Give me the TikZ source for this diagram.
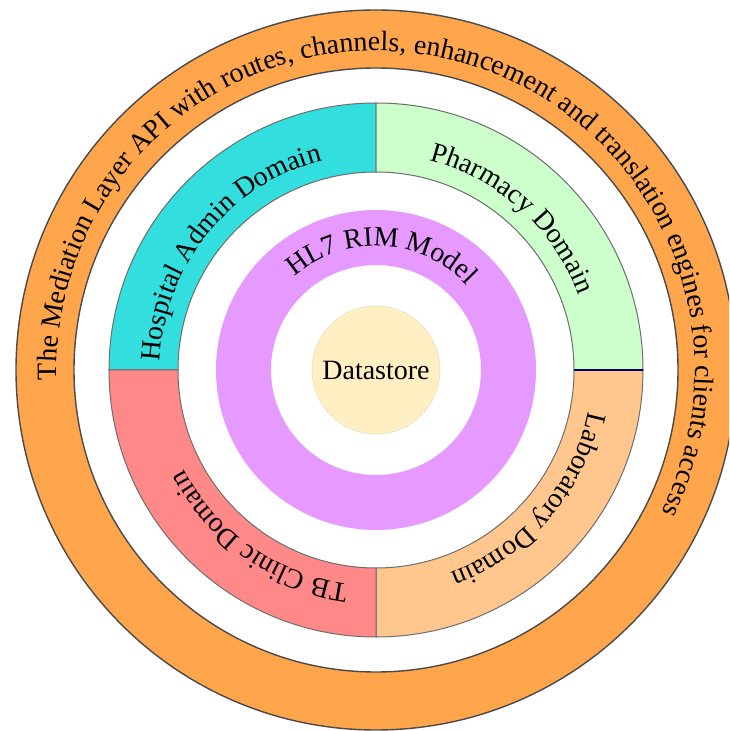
\documentclass[tikz,border=0pt]{standalone}
\usepackage{fontspec}
\setmainfont{Liberation Serif}
\usetikzlibrary{decorations.text}

\definecolor{mediation}{HTML}{FFA64D}
\definecolor{hospital}{HTML}{33DEDE}
\definecolor{pharmacy}{HTML}{CCFFCC}
\definecolor{laboratory}{HTML}{FFC68E}
\definecolor{tbclinic}{HTML}{FF8888}
\definecolor{rim}{HTML}{E699FF}
\definecolor{datastore}{HTML}{FFEFC2}
\definecolor{edge}{HTML}{4A4A4A}

\newcommand\ringfont{\fontsize{28}{32}\selectfont}

\tikzset{
  ringedge/.style={draw=edge, line width=1.4pt},
  sectoredge/.style={draw=edge!80, line width=1pt},
  % text set along an arc, centred on it
  arctext/.style={decorate, decoration={text along path, text align=center,
      text={|\ringfont|#1}}},
}

% annular sector: fill colour, start angle, end angle
\newcommand\domainsector[3]{%
  \draw[sectoredge, fill=#1] (#2:198) arc[start angle=#2, end angle=#3, radius=198]
    -- (#3:267) arc[start angle=#3, end angle=#2, radius=267] -- cycle;}

% clockwise arc of given radius, centred on an angle, with a half span
\newcommand\textarc[4]{%
  \path[arctext={#4}] (#2+#3:#1) arc[start angle=#2+#3, end angle=#2-#3, radius=#1];}

\begin{document}
\begin{tikzpicture}[x=1pt,y=1pt]
\useasboundingbox (0,0) rectangle (729,731);
\fill[white] (0,0) rectangle (729,731);
\clip (0,0) rectangle (729,731);
\coordinate (c) at (376,361);

\begin{scope}[shift={(c)}]
  % outer mediation layer ring
  \draw[ringedge, fill=mediation, even odd rule]
    (0,0) circle[radius=360] (0,0) circle[radius=302];

  % the four domains
  \domainsector{hospital}{90}{180}
  \domainsector{pharmacy}{0}{90}
  \domainsector{laboratory}{-90}{0}
  \domainsector{tbclinic}{180}{270}
  \draw[blue!40!black, line width=1.2pt] (0:198) -- (0:267);

  % HL7 RIM ring
  \fill[rim, even odd rule] (0,0) circle[radius=160] (0,0) circle[radius=105];

  % datastore core
  \draw[datastore!80!gray, fill=datastore, line width=0.4pt] (0,0) circle[radius=64];
  \node[font=\ringfont] (store) at (0,0) {Datastore};

  % curved labels
  \textarc{319}{77.7}{125}{The Mediation Layer API with routes, channels, enhancement and translation engines for clients access}
  \textarc{216}{141}{60}{Hospital Admin Domain}
  \textarc{216}{48}{45}{Pharmacy Domain}
  \textarc{216}{-40.5}{45}{Laboratory Domain}
  \textarc{216}{-125}{45}{TB Clinic Domain}
  \textarc{124}{87}{75}{HL7 RIM Model}
\end{scope}
\end{tikzpicture}
\end{document}
